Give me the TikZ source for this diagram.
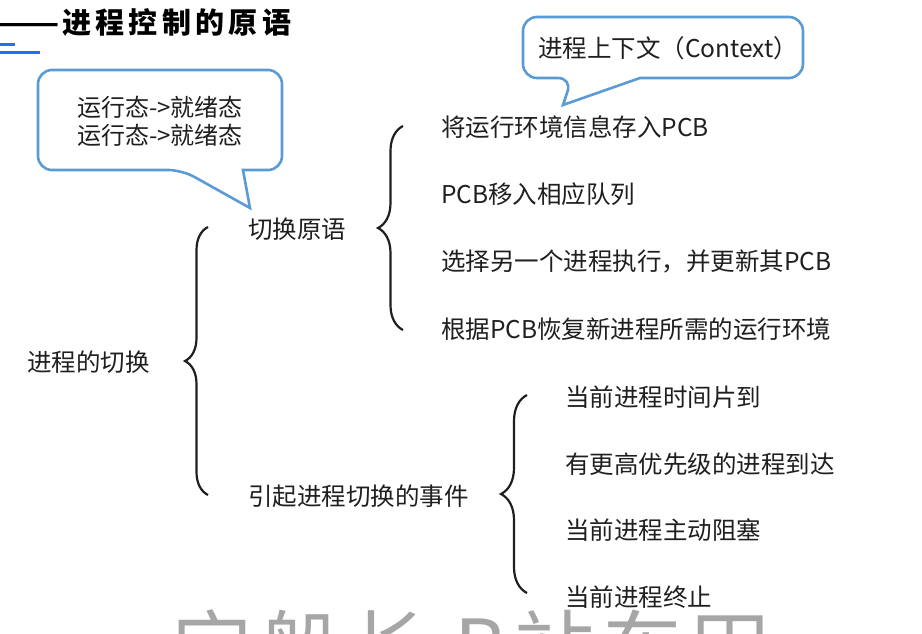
\documentclass[tikz,border=0pt]{standalone}
\usepackage{fontspec}
\setmainfont{Liberation Sans}
\newfontfamily\cjk{Noto Sans CJK SC}
\usetikzlibrary{decorations.pathreplacing}

\definecolor{tipblue}{RGB}{91, 155, 213}  % Rahmen der Sprechblasen
\definecolor{barblue}{RGB}{30, 110, 255}  % Unterstrich links oben

\begin{document}
\begin{tikzpicture}[x=1pt, y=-1pt,
    item/.style={anchor=west, inner sep=0pt, text=black!88,
        font=\cjk\fontsize{24.5}{28}\selectfont},
    bubble/.style={draw=tipblue, line width=2.6pt, fill=white},
    bracket/.style={decorate, decoration={brace, amplitude=#1},
        line width=2.2pt, black!88},
    bracket/.default=23pt]

    \path[use as bounding box] (0,0) rectangle (922,634);
    \clip (0,0) rectangle (922,634);

    % Titel
    \node[anchor=west, inner sep=0pt, font=\cjk\bfseries\fontsize{29}{32}\selectfont]
        (title) at (-14,22)
        {———\hspace{3pt}{\addfontfeatures{LetterSpace=15}进程控制的原语}};
    \fill[barblue] (0,43) rectangle (15,46);
    \fill[barblue] (0,51) rectangle (40,54);

    % Sprechblase links
    \draw[bubble] (160,70) [rounded corners=14pt] -- (38,70) -- (38,170)
        -- (182,170) [sharp corners] -- (250,208) -- (243,170)
        [rounded corners=14pt] -- (282,170) -- (282,70) -- cycle;
    \node[align=center, inner sep=0pt, font=\cjk\fontsize{24}{28}\selectfont,
        text=black!88] (stateTip) at (160,121) {运行态->就绪态\\运行态->就绪态};

    % Sprechblase rechts
    \draw[bubble] (660,17) [rounded corners=14pt] -- (523,17) -- (523,78)
        -- (572,78) [sharp corners] -- (563,105) -- (640,78)
        [rounded corners=14pt] -- (803,78) -- (803,17) -- cycle;
    \node[item] (ctxTip) at (538,48) {进程上下文（Context）};

    % Baum
    \node[item] (root) at (27,362) {进程的切换};
    \node[item] (prim) at (248,229) {切换原语};
    \node[item] (event) at (248,496) {引起进程切换的事件};

    \foreach \txt [count=\i] in {将运行环境信息存入PCB, PCB移入相应队列,
        选择另一个进程执行，并更新其PCB, 根据PCB恢复新进程所需的运行环境}
        \node[item] (p\i) at (441,{127+67.3*(\i-1)}) {\txt};

    \foreach \txt [count=\i] in {当前进程时间片到, 有更高优先级的进程到达,
        当前进程主动阻塞, 当前进程终止}
        \node[item] (e\i) at (565,{397+66.7*(\i-1)}) {\txt};

    % Klammern
    \coordinate (rootTop) at (208,227);
    \coordinate (rootBot) at (208,495);
    \coordinate (primTop) at (403,126);
    \coordinate (primBot) at (403,330);
    \coordinate (eventTop) at (527,395);
    \coordinate (eventBot) at (527,593);

    \draw[bracket] (rootBot) -- (rootTop);
    \draw[bracket=25pt] (primBot) -- (primTop);
    \draw[bracket=26pt] (eventBot) -- (eventTop);

    % Wasserzeichen
    \node[anchor=base west, inner sep=0pt, text=black!35,
        font=\cjk\fontsize{80}{90}\selectfont] (mark) at (172,677)
        {\addfontfeatures{LetterSpace=10}宝船长 B站车田};
\end{tikzpicture}
\end{document}
